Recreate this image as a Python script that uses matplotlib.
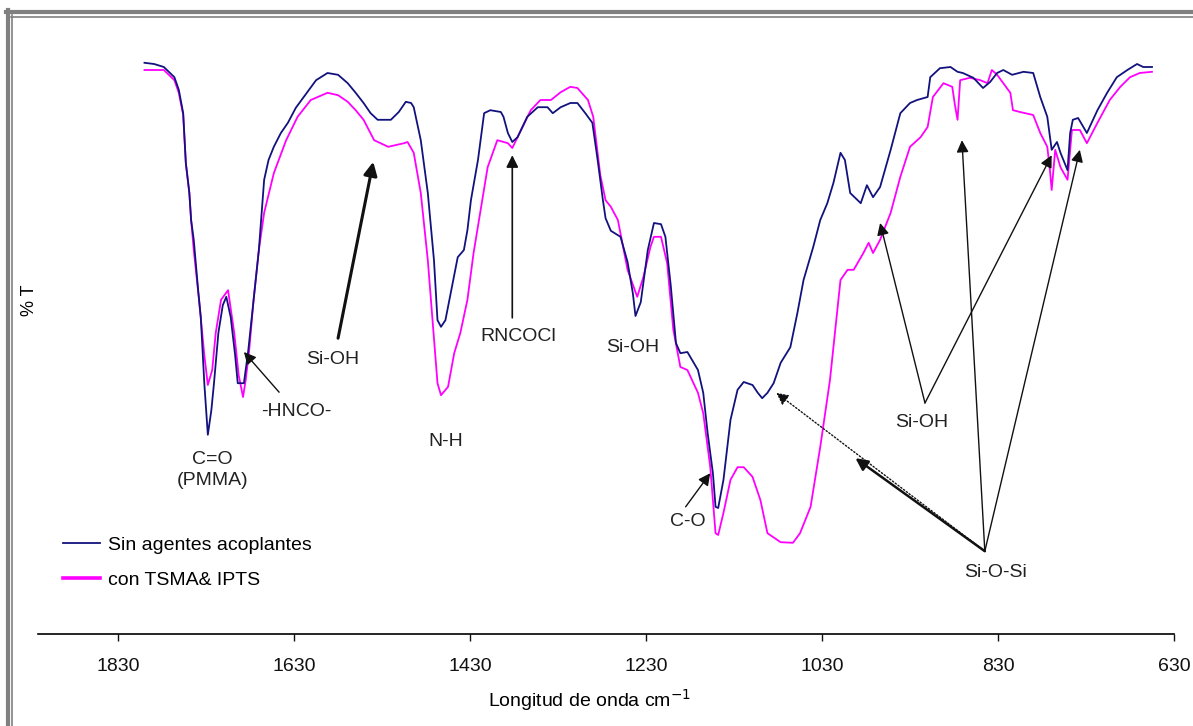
import matplotlib
matplotlib.use("Agg")
import matplotlib.pyplot as plt
from matplotlib.lines import Line2D

plt.rcParams['font.family'] = ['Liberation Sans', 'DejaVu Sans']

# spectrum 1: sin agentes acoplantes (wavenumber cm-1, %T)
blue_wn = [1800, 1789, 1778, 1766, 1761, 1756, 1753, 1749, 1747, 1744,
           1739, 1736, 1732, 1728, 1724, 1721, 1716, 1711, 1707, 1702,
           1697, 1694, 1687, 1682, 1676, 1670, 1664, 1659, 1653, 1645,
           1637, 1628, 1619, 1605, 1592, 1580, 1569, 1560, 1551, 1543,
           1535, 1520, 1511, 1503, 1497, 1494, 1486, 1478, 1471, 1467,
           1463, 1458, 1452, 1444, 1437, 1433, 1429, 1421, 1414, 1407,
           1395, 1392, 1387, 1382, 1376, 1365, 1353, 1342, 1336, 1327,
           1316, 1308, 1299, 1291, 1285, 1279, 1276, 1270, 1259, 1251,
           1245, 1242, 1236, 1228, 1221, 1213, 1208, 1202, 1196, 1191,
           1183, 1171, 1165, 1160, 1154, 1151, 1148, 1142, 1134, 1126,
           1119, 1109, 1103, 1098, 1092, 1085, 1077, 1066, 1058, 1051,
           1040, 1032, 1024, 1017, 1009, 1004, 998, 986, 979, 972,
           964, 952, 941, 930, 922, 910, 907, 896, 884, 876,
           870, 858, 847, 839, 831, 824, 814, 801, 790, 782,
           774, 769, 763, 759, 751, 748, 745, 739, 729, 717,
           706, 695, 683, 672, 665, 655]
blue_t = [95.2, 95.0, 94.5, 92.8, 90.7, 86.8, 78.5, 73.5, 69.0, 65.7,
          57.3, 52.8, 41.8, 33.2, 37.3, 41.8, 50.2, 54.8, 56.2, 52.8,
          46.5, 41.8, 41.8, 47.3, 55.7, 64.0, 75.7, 79.0, 81.2, 83.5,
          85.2, 87.7, 89.5, 92.3, 93.5, 93.2, 91.8, 90.2, 88.5, 86.8,
          85.7, 85.7, 87.0, 88.7, 88.5, 87.8, 82.3, 73.5, 62.3, 52.3,
          51.2, 52.3, 56.8, 62.8, 64.0, 67.3, 72.3, 79.0, 86.8, 87.3,
          87.0, 86.2, 83.5, 82.0, 82.8, 86.2, 87.8, 87.8, 86.8, 87.8,
          88.5, 88.5, 86.8, 85.2, 79.0, 72.3, 69.3, 67.2, 66.2, 62.0,
          56.8, 53.0, 55.3, 64.0, 68.5, 68.3, 66.2, 58.2, 48.5, 46.8,
          47.0, 44.0, 40.2, 33.5, 26.8, 21.2, 21.0, 25.7, 35.7, 40.7,
          42.0, 41.5, 40.2, 39.3, 40.2, 41.8, 45.2, 47.8, 53.5, 59.0,
          64.5, 69.0, 71.8, 75.2, 80.2, 79.0, 73.5, 71.8, 74.8, 72.8,
          74.5, 80.7, 86.8, 88.5, 89.0, 89.5, 92.8, 94.3, 94.5, 93.7,
          93.5, 92.7, 91.0, 92.0, 93.5, 94.0, 93.2, 93.7, 93.5, 89.5,
          86.2, 80.7, 82.0, 80.2, 77.3, 83.5, 85.7, 86.0, 83.5, 87.3,
          90.2, 92.8, 94.0, 95.0, 94.5, 94.5]

# spectrum 2: con TSMA & IPTS
pink_wn = [1800, 1789, 1778, 1766, 1761, 1756, 1753, 1749, 1747, 1744,
           1738, 1732, 1728, 1723, 1719, 1713, 1705, 1698, 1693, 1688,
           1685, 1681, 1676, 1670, 1664, 1653, 1639, 1626, 1611, 1592,
           1580, 1569, 1560, 1551, 1539, 1523, 1505, 1501, 1494, 1486,
           1478, 1472, 1467, 1463, 1455, 1448, 1441, 1433, 1426, 1418,
           1410, 1399, 1387, 1382, 1372, 1361, 1350, 1338, 1327, 1316,
           1308, 1296, 1290, 1282, 1276, 1270, 1262, 1251, 1240, 1233,
           1225, 1221, 1213, 1206, 1199, 1191, 1183, 1171, 1165, 1157,
           1151, 1148, 1142, 1134, 1126, 1119, 1109, 1100, 1092, 1077,
           1063, 1055, 1043, 1032, 1021, 1013, 1009, 1001, 994, 983,
           977, 972, 964, 952, 941, 930, 918, 910, 904, 892,
           882, 879, 876, 873, 862, 850, 842, 837, 831, 824,
           816, 813, 805, 790, 782, 774, 771, 769, 765, 759,
           751, 746, 737, 729, 717, 703, 691, 680, 669, 655]
pink_t = [94.0, 94.0, 94.0, 92.3, 90.2, 86.5, 78.5, 73.5, 69.0, 64.0,
          55.7, 46.5, 41.5, 44.0, 50.2, 55.7, 57.3, 50.2, 43.2, 39.5,
          42.3, 47.3, 55.7, 64.0, 70.2, 76.8, 82.3, 86.2, 89.0, 90.2,
          89.8, 88.7, 87.3, 85.7, 82.3, 81.2, 81.8, 82.0, 80.2, 73.5,
          62.3, 51.2, 41.8, 39.8, 41.2, 46.8, 50.2, 55.7, 63.5, 70.7,
          77.8, 82.3, 81.8, 81.0, 84.0, 87.3, 89.0, 89.0, 90.3, 91.2,
          91.0, 89.0, 86.2, 76.5, 72.3, 71.2, 69.0, 60.7, 56.2, 59.5,
          64.5, 66.2, 66.2, 61.8, 50.7, 44.5, 44.0, 40.2, 36.8, 27.8,
          16.8, 16.5, 20.2, 25.7, 27.8, 27.8, 26.2, 22.3, 16.8, 15.3,
          15.2, 16.8, 21.2, 31.2, 42.3, 53.5, 59.0, 60.7, 60.7, 63.5,
          65.2, 63.5, 65.7, 70.2, 76.2, 81.2, 82.8, 84.5, 89.5, 91.8,
          91.2, 88.2, 85.7, 92.3, 92.7, 92.3, 91.8, 94.0, 93.2, 91.8,
          90.2, 87.3, 87.0, 86.5, 83.5, 81.2, 77.3, 74.0, 80.7, 77.8,
          75.7, 84.0, 84.0, 81.8, 85.2, 89.0, 91.2, 92.8, 93.5, 93.7]

xticks = [1830, 1630, 1430, 1230, 1030, 830, 630]
series_names = ['Sin agentes acoplantes', 'con TSMA& IPTS']

W, H = 1193, 726
fig = plt.figure(figsize=(W / 100, H / 100), dpi=100)
ax = fig.add_axes([38 / W, 92 / H, 1136 / W, 600 / H])

BLUE = '#12127e'
PINK = '#ff00ff'
ax.plot(pink_wn, pink_t, color=PINK, lw=1.3)
ax.plot(blue_wn, blue_t, color=BLUE, lw=1.3)

ax.set_xlim(1921, 630)
ax.set_ylim(0, 100)
for s in ['top', 'right', 'left']:
    ax.spines[s].set_visible(False)
ax.spines['bottom'].set_linewidth(1.2)
ax.set_yticks([])
ax.set_xticks(xticks)
ax.set_xticklabels([str(v) for v in xticks], fontsize=14)
ax.tick_params(axis='x', length=5, width=1, pad=12, colors='#111111')

fig.text(590 / W, 1 - 700 / H, 'Longitud de onda cm$^{-1}$', fontsize=14,
         ha='center', va='center')
fig.text(30 / W, 1 - 300 / H, '% T', fontsize=13, rotation=90,
         ha='center', va='center')

# annotations
TXT = dict(fontsize=14, ha='center', va='center', color='#222222')
ax.text(1723, 27.3, 'C=O\n(PMMA)', linespacing=1.3, **TXT)
ax.text(1628, 37.0, '-HNCO-', **TXT)
ax.text(1586, 45.7, 'Si-OH', **TXT)
ax.text(1458, 32.0, 'N-H', **TXT)
ax.text(1375, 49.5, 'RNCOCl', **TXT)
ax.text(1245, 47.7, 'Si-OH', **TXT)
ax.text(1182, 18.7, 'C-O', **TXT)
ax.text(917, 35.2, 'Si-OH', **TXT)
ax.text(833, 10.3, 'Si-O-Si', **TXT)


def arrow(head, tail, lw=1.0, ls='-', ms=18):
    ax.annotate('', xy=head, xytext=tail,
                arrowprops=dict(arrowstyle='-|>', color='#111111', lw=lw,
                                linestyle=ls, mutation_scale=ms,
                                shrinkA=0, shrinkB=0))


arrow((1687, 47.0), (1647, 40.3))
arrow((1540, 78.7), (1580, 49.3), lw=2.2, ms=20)
arrow((1382, 79.8), (1382, 52.7), lw=1.2)
arrow((1157, 26.8), (1185, 21.2))
arrow((964, 68.5), (913, 38.5))
arrow((769, 79.8), (913, 38.5))
arrow((1082, 40.2), (845, 13.8), lw=1.0, ls=(0, (1, 1.5)))
arrow((992, 29.3), (845, 13.8), lw=1.8)
arrow((871, 82.3), (845, 13.8))
arrow((737, 80.7), (845, 13.8))

handles = [Line2D([], [], color=BLUE, lw=1.3),
           Line2D([], [], color=PINK, lw=2.6)]
ax.legend(handles, series_names, loc='upper left',
          bbox_to_anchor=(63 / W, 1 - 536 / H), bbox_transform=fig.transFigure,
          frameon=False, fontsize=14, handlelength=1.9, handletextpad=0.4,
          labelspacing=0.9, borderpad=0, borderaxespad=0)

# double grey frame (top and left)
def fline(x0, y0, x1, y1, lw):
    fig.add_artist(Line2D([x0 / W, x1 / W], [1 - y0 / H, 1 - y1 / H],
                          transform=fig.transFigure, color='#808080', lw=lw))


fline(6, 12, W, 12, 3.0)
fline(8, 10, 8, H, 3.0)
fline(11, 16.5, W, 16.5, 1.2)
fline(12, 15, 12, H, 1.2)

fig.savefig('out.png', dpi=100)
